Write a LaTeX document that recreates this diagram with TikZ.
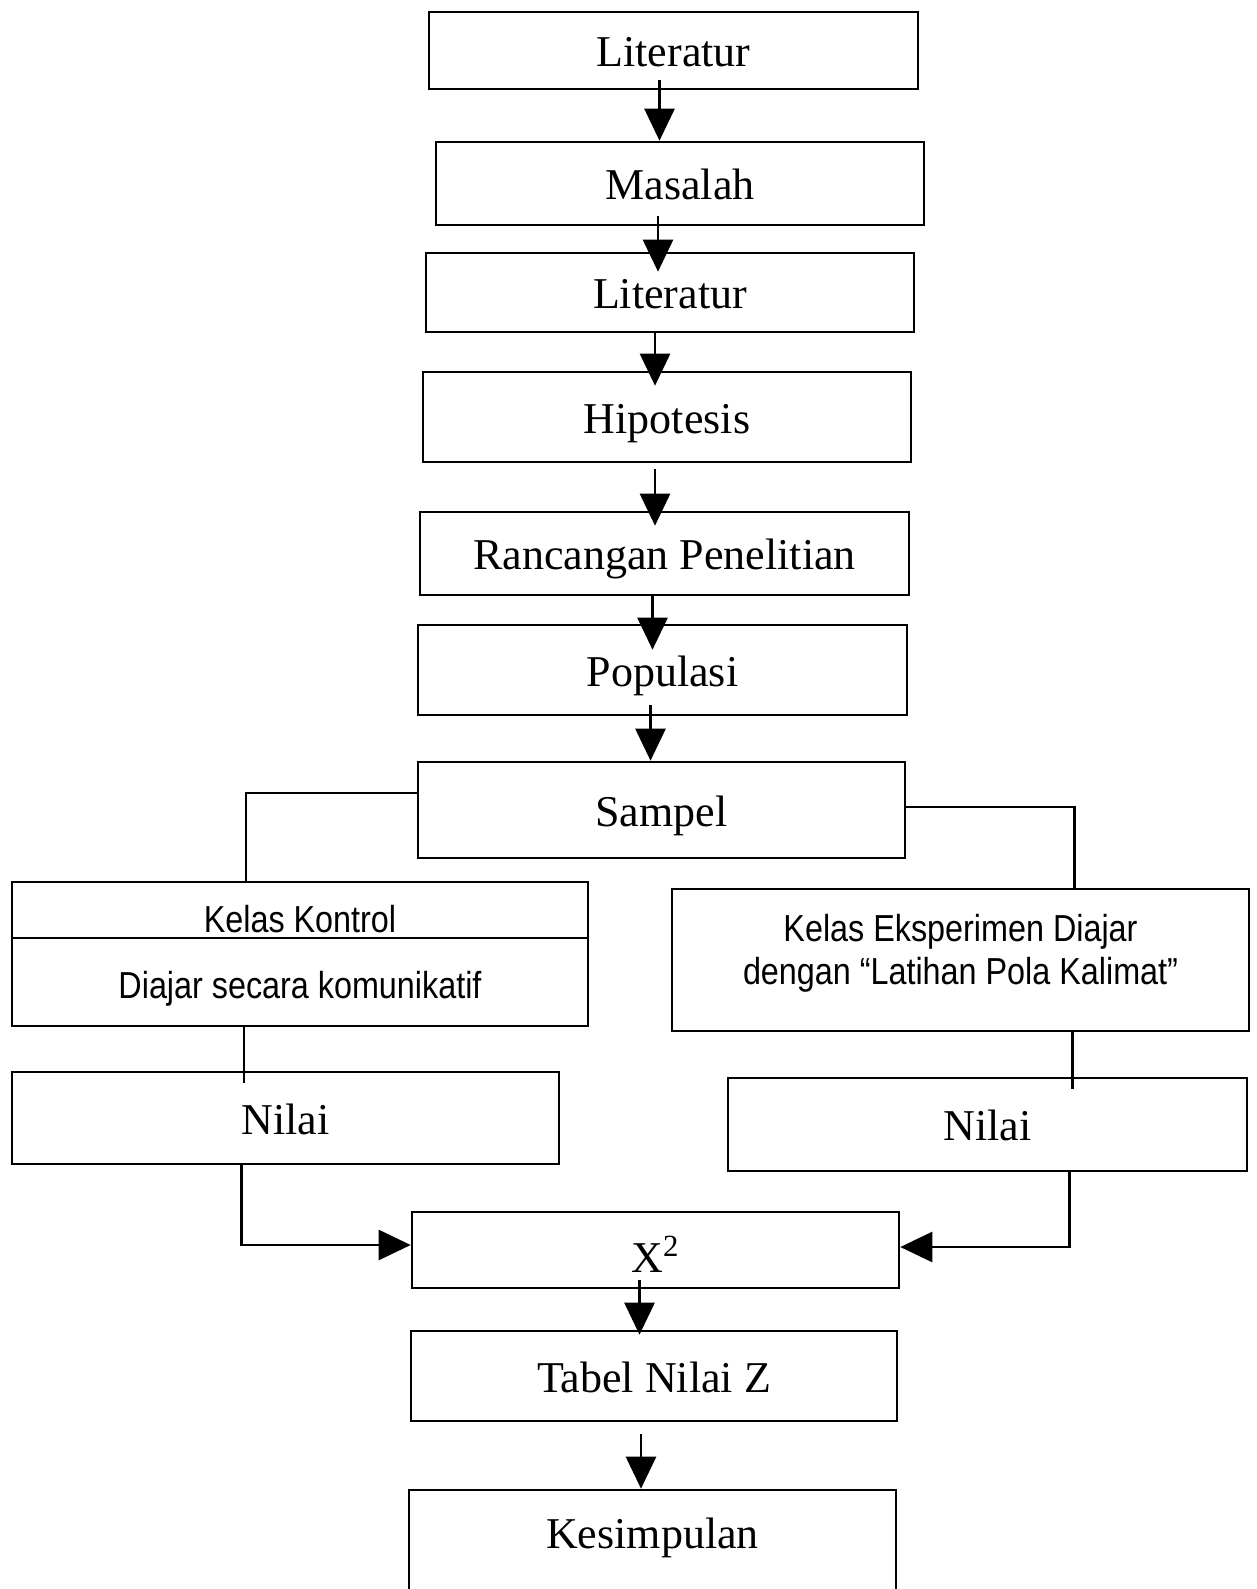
\documentclass[tikz,border=0pt]{standalone}
\usepackage{fontspec}
\setmainfont{Liberation Serif}
\newfontfamily\kelasfont[FakeStretch=0.86]{Liberation Sans}
\usetikzlibrary{positioning,arrows.meta,calc}

\begin{document}
\begin{tikzpicture}[
  x=0.5pt,y=-0.5pt,
  box/.style={draw,line width=1.3pt,inner sep=0pt,align=center,text height=20pt,text depth=4pt,
    font=\fontsize{22}{26}\selectfont},
  kbox/.style={draw,line width=1.3pt,inner sep=0pt,align=center,font=\kelasfont\fontsize{18.8}{21.5}\selectfont},
  ln/.style={line width=1.3pt},
  fl/.style={-{Triangle[length=16pt,width=15pt]},line width=1.3pt},
]
\useasboundingbox (0,0) rectangle (1257,1589);
% main column
\node[box,minimum width=244.5pt,minimum height=38.5pt] (lit1) at (673.5,50.5) {Literatur};
\node[box,minimum width=244pt,minimum height=41.5pt] (mas) at (680,183.5) {Masalah};
\node[box,minimum width=244pt,minimum height=39.5pt] (lit2) at (670,292.5) {Literatur};
\node[box,minimum width=244pt,minimum height=45pt] (hip) at (667,417) {Hipotesis};
\node[box,minimum width=244.5pt,minimum height=41.5pt] (ran) at (664.5,553.5) {Rancangan Penelitian};
\node[box,minimum width=244.5pt,minimum height=45pt] (pop) at (662.5,670) {Populasi};
\node[box,minimum width=243.5pt,minimum height=48pt] (samp) at (661.5,810) {Sampel};
% two classes
\node[kbox,minimum width=288pt,minimum height=28pt,text height=22.7pt,text depth=0pt] (kontrol) at (300,910) {Kelas Kontrol};
\node[kbox,minimum width=288pt,minimum height=44pt,text height=20.7pt,text depth=3.9pt] (diajar) at (300,982) {Diajar secara komunikatif};
\node[kbox,minimum width=288.5pt,minimum height=71pt,text depth=10.9pt] (eksp) at (960.5,960)
  {Kelas Eksperimen Diajar\\dengan “Latihan Pola Kalimat”};
\node[box,minimum width=273.5pt,minimum height=46pt] (nilL) at (285.5,1118) {Nilai};
\node[box,minimum width=259.5pt,minimum height=46.5pt] (nilR) at (987.5,1124.5) {Nilai};
% test and result
\node[box,minimum width=243.5pt,minimum height=38pt] (x2) at (655.5,1250) {\raisebox{-3pt}{X\textsuperscript{2}}};
\node[box,minimum width=243pt,minimum height=45pt] (tab) at (654,1376) {Tabel Nilai Z};
\node[box,minimum width=243.5pt,minimum height=52pt] (kes) at (652.5,1542) {\raisebox{5pt}{Kesimpulan}};
% main flow
\draw[fl] ([xshift=-7pt,yshift=5pt]lit1.south) -- ([xshift=-7pt]lit1.south |- mas.north);
\draw[fl] ([xshift=-11pt,yshift=5pt]mas.south) -- ([xshift=-11pt,yshift=-10pt]mas.south |- lit2.north);
\draw[fl] ([xshift=-7.5pt]lit2.south) -- ([xshift=-7.5pt,yshift=-7.5pt]lit2.south |- hip.north);
\draw[fl] ([xshift=-6pt,yshift=-3pt]hip.south) -- ([xshift=-6pt,yshift=-7.5pt]hip.south |- ran.north);
\draw[fl] ([xshift=-6pt]ran.south) -- ([xshift=-6pt,yshift=-13pt]ran.south |- pop.north);
\draw[fl] ([xshift=-6pt,yshift=5.5pt]pop.south) -- ([xshift=-6pt]pop.south |- samp.north);
% branches
\draw[ln] ([yshift=8.5pt]samp.west) -| ([xshift=-27pt]kontrol.north);
\draw[ln] ([yshift=1.5pt]samp.east) -| ([xshift=57pt]eksp.north);
\draw[ln] ([xshift=-28pt]diajar.south) -- ([xshift=-28pt,yshift=-6pt]diajar.south |- nilL.north);
\draw[ln] ([xshift=56pt]eksp.south) -- ([xshift=56pt,yshift=-6pt]eksp.south |- nilR.north);
\draw[fl] ([xshift=-22pt]nilL.south) |- ([yshift=2.5pt]x2.west);
\draw[fl] ([xshift=41pt]nilR.south) |- ([yshift=1.5pt]x2.east);
% to the end
\draw[fl] ([xshift=-8pt,yshift=4.5pt]x2.south) -- ([xshift=-8pt,yshift=-2.5pt]x2.south |- tab.north);
\draw[fl] ([xshift=-6.5pt,yshift=-6pt]tab.south) -- ([xshift=-6.5pt]tab.south |- kes.north);
\end{tikzpicture}
\end{document}
